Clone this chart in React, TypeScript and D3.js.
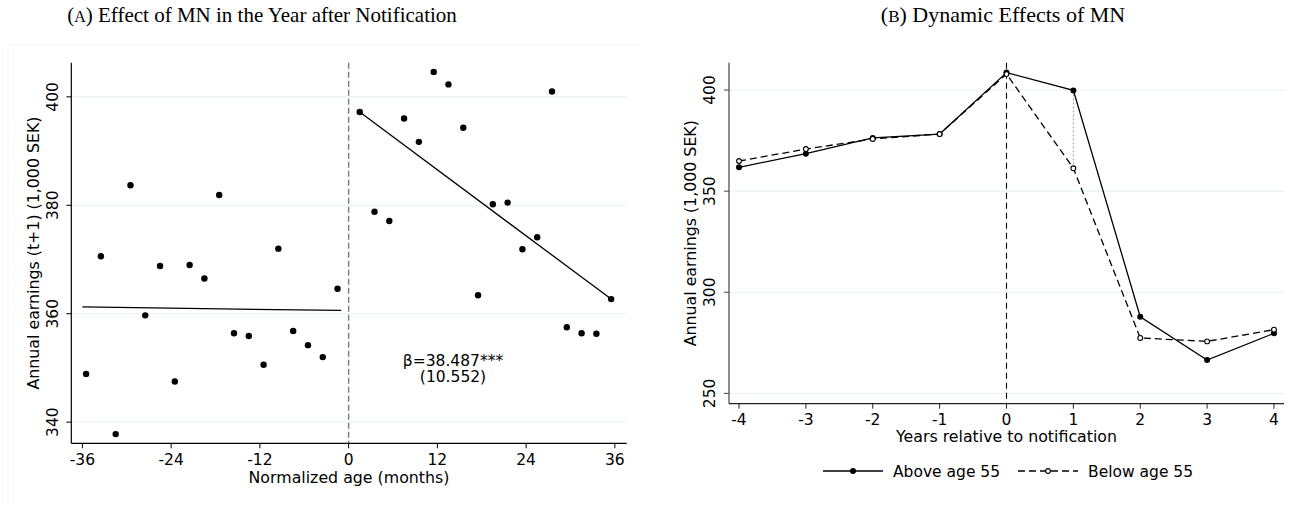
import React from 'react';
import * as d3 from 'd3';

// panel A: binned scatter, 2-month bins
const monthsBefore = [-35.5, -33.5, -31.5, -29.5, -27.5, -25.5, -23.5, -21.5, -19.5, -17.5, -15.5, -13.5, -11.5, -9.5, -7.5, -5.5, -3.5, -1.5];
const earningsBefore = [348.9, 370.6, 337.8, 383.7, 359.7, 368.8, 347.5, 369.0, 366.5, 381.9, 356.4, 355.9, 350.6, 372.0, 356.8, 354.2, 352.0, 364.6];
const monthsAfter = [1.5, 3.5, 5.5, 7.5, 9.5, 11.5, 13.5, 15.5, 17.5, 19.5, 21.5, 23.5, 25.5, 27.5, 29.5, 31.5, 33.5, 35.5];
const earningsAfter = [397.2, 378.8, 377.1, 396.0, 391.7, 404.6, 402.3, 394.3, 363.4, 380.2, 380.5, 371.9, 374.1, 401.0, 357.5, 356.4, 356.3, 362.7];
const fitBefore = [{ m: -36, v: 361.25 }, { m: -1, v: 360.6 }];
const fitAfter = [{ m: 1.5, v: 397.2 }, { m: 35.5, v: 362.7 }];
const ageTicks = [-36, -24, -12, 0, 12, 24, 36];
const earnTicksA = [340, 360, 380, 400];

// panel B: event study
const years = [-4, -3, -2, -1, 0, 1, 2, 3, 4];
const aboveAge55 = [361.8, 368.5, 376.3, 378.2, 408.6, 399.8, 287.9, 266.5, 279.7];
const belowAge55 = [364.9, 370.8, 375.8, 378.2, 407.9, 361.3, 277.4, 275.7, 281.5];
const earnTicksB = [250, 300, 350, 400];

const font = 'DejaVu Sans';
const gridColor = '#e8f0f2';

function App() {
  // scales for A
  const xA = d3.scaleLinear().domain([-37.5, 37.6]).range([71.3, 626.7]);
  const yA = d3.scaleLinear().domain([336.1, 406.3]).range([443.3, 62.7]);
  // scales for B
  const xB = d3.scaleLinear().domain([-4.15, 4.15]).range([729, 1284]);
  const yB = d3.scaleLinear().domain([244.9, 413.5]).range([403.7, 62.7]);

  const fitLine = d3.line<{ m: number; v: number }>().x(d => xA(d.m)).y(d => yA(d.v));
  const lineB = (vals: number[]) =>
    d3.line<number>().x((_, i) => xB(years[i])).y(d => yB(d))(vals) as string;

  const [a0, a1] = xA.range();
  const [b0, b1] = xB.range();

  return (
    <svg width={1299} height={506} style={{ position: 'absolute', left: 0, top: 0, background: '#fff' }}>
      {/* titles */}
      <text x={262} y={22} textAnchor="middle" fontFamily="Liberation Serif" fontSize={21}>
        (<tspan fontSize={16}>A</tspan>) Effect of MN in the Year after Notification
      </text>
      <text x={1003} y={22} textAnchor="middle" fontFamily="Liberation Serif" fontSize={22}>
        (<tspan fontSize={17}>B</tspan>) Dynamic Effects of MN
      </text>

      {/* faint region border of panel A */}
      <path d="M8,505V45H640" fill="none" stroke="#f5f5f5" />

      {/* ---- panel A ---- */}
      <g fontFamily={font}>
        {earnTicksA.map(t => (
          <g key={t}>
            <line x1={a0} x2={a1} y1={yA(t)} y2={yA(t)} stroke={gridColor} strokeWidth={1} />
            <line x1={a0 - 5} x2={a0} y1={yA(t)} y2={yA(t)} stroke="#000" />
            <text transform={`translate(58,${yA(t)}) rotate(-90)`} textAnchor="middle" fontSize={15.5}>{t}</text>
          </g>
        ))}
        <line x1={xA(0)} x2={xA(0)} y1={yA.range()[1]} y2={yA.range()[0]} stroke="#7a7a7a" strokeWidth={1.4} strokeDasharray="6,3" />
        <path d={fitLine(fitBefore) as string} fill="none" stroke="#000" strokeWidth={1.3} />
        <path d={fitLine(fitAfter) as string} fill="none" stroke="#000" strokeWidth={1.3} />
        {monthsBefore.map((m, i) => (
          <circle key={'b' + i} cx={xA(m)} cy={yA(earningsBefore[i])} r={3.2} fill="#000" />
        ))}
        {monthsAfter.map((m, i) => (
          <circle key={'a' + i} cx={xA(m)} cy={yA(earningsAfter[i])} r={3.2} fill="#000" />
        ))}
        <line x1={a0} x2={a0} y1={yA.range()[1]} y2={yA.range()[0]} stroke="#000" strokeWidth={1.2} />
        <line x1={a0} x2={a1} y1={yA.range()[0]} y2={yA.range()[0]} stroke="#000" strokeWidth={1.2} />
        {ageTicks.map(t => (
          <g key={t}>
            <line x1={xA(t)} x2={xA(t)} y1={yA.range()[0]} y2={yA.range()[0] + 5} stroke="#000" />
            <text x={xA(t)} y={465} textAnchor="middle" fontSize={15.5}>{t}</text>
          </g>
        ))}
        <text x={(a0 + a1) / 2} y={483} textAnchor="middle" fontSize={15.8}>Normalized age (months)</text>
        <text transform={`translate(39,${(yA.range()[0] + yA.range()[1]) / 2}) rotate(-90)`} textAnchor="middle" fontSize={15.8}>
          Annual earnings (t+1) (1,000 SEK)
        </text>
        <text x={453} y={366} textAnchor="middle" fontSize={15.5}>β=38.487***</text>
        <text x={453} y={382} textAnchor="middle" fontSize={15.5}>(10.552)</text>
      </g>

      {/* ---- panel B ---- */}
      <g fontFamily={font}>
        {earnTicksB.map(t => (
          <g key={t}>
            <line x1={b0} x2={b1} y1={yB(t)} y2={yB(t)} stroke={gridColor} strokeWidth={1} />
            <line x1={b0 - 5} x2={b0} y1={yB(t)} y2={yB(t)} stroke="#444" />
            <text transform={`translate(715,${yB(t)}) rotate(-90)`} textAnchor="middle" fontSize={15.5}>{t}</text>
          </g>
        ))}
        <line x1={xB(0)} x2={xB(0)} y1={yB.range()[1]} y2={yB.range()[0]} stroke="#000" strokeWidth={1.1} strokeDasharray="6,4" />
        <line x1={xB(1)} x2={xB(1)} y1={yB(aboveAge55[5])} y2={yB(belowAge55[5])} stroke="#999" strokeWidth={1} strokeDasharray="2,2" />
        <path d={lineB(belowAge55)} fill="none" stroke="#000" strokeWidth={1.3} strokeDasharray="7,4" />
        <path d={lineB(aboveAge55)} fill="none" stroke="#000" strokeWidth={1.3} />
        {years.map((yr, i) => (
          <circle key={'ab' + yr} cx={xB(yr)} cy={yB(aboveAge55[i])} r={3} fill="#000" />
        ))}
        {years.map((yr, i) => (
          <circle key={'be' + yr} cx={xB(yr)} cy={yB(belowAge55[i])} r={2.4} fill="#fff" stroke="#000" strokeWidth={1.1} />
        ))}
        <line x1={b0} x2={b0} y1={yB.range()[1]} y2={yB.range()[0]} stroke="#444" strokeWidth={1.2} />
        <line x1={b0} x2={b1} y1={yB.range()[0]} y2={yB.range()[0]} stroke="#222" strokeWidth={1.2} />
        {years.map(t => (
          <g key={t}>
            <line x1={xB(t)} x2={xB(t)} y1={yB.range()[0]} y2={yB.range()[0] + 5} stroke="#222" />
            <text x={xB(t)} y={425} textAnchor="middle" fontSize={15.5}>{t}</text>
          </g>
        ))}
        <text x={(b0 + b1) / 2} y={442} textAnchor="middle" fontSize={15.8}>Years relative to notification</text>
        <text transform={`translate(696,${(yB.range()[0] + yB.range()[1]) / 2}) rotate(-90)`} textAnchor="middle" fontSize={15.8}>
          Annual earnings (1,000 SEK)
        </text>

        {/* legend */}
        <line x1={823} x2={883} y1={471} y2={471} stroke="#000" strokeWidth={1.3} />
        <circle cx={853} cy={471} r={3} fill="#000" />
        <text x={893} y={476.5} fontSize={15.5}>Above age 55</text>
        <line x1={1018} x2={1078} y1={471} y2={471} stroke="#000" strokeWidth={1.3} strokeDasharray="7,4" />
        <circle cx={1048} cy={471} r={2.4} fill="#fff" stroke="#000" strokeWidth={1.1} />
        <text x={1088} y={476.5} fontSize={15.5}>Below age 55</text>
      </g>
    </svg>
  );
}

export default App;
